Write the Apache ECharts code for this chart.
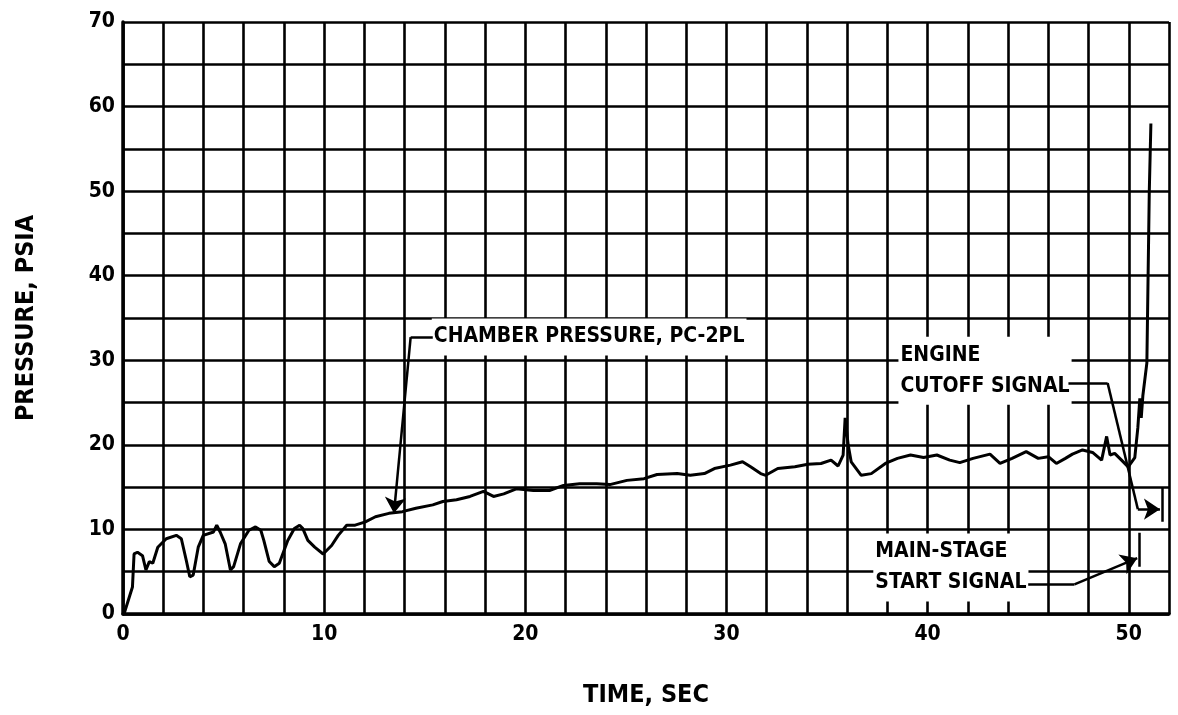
<!DOCTYPE html>
<html>
<head>
<meta charset="utf-8">
<script src="https://cdn.jsdelivr.net/npm/echarts@6/dist/echarts.min.js"></script>
<style>
  html, body { margin: 0; padding: 0; background: #fff; }
  #chart { width: 1178px; height: 715px; }
</style>
</head>
<body>
<div id="chart"></div>
<script>
// ---- data ----
const timeSec = [0.05,0.47,0.55,0.72,0.97,1.14,1.31,1.48,1.73,2.15,2.65,2.9,3.15,3.32,3.49,3.74,3.99,4.5,4.66,4.83,5.08,5.34,5.5,5.84,6.26,6.59,6.85,7.0,7.27,7.52,7.77,8.19,8.52,8.78,8.94,9.19,9.53,9.95,10.37,10.7,11.12,11.54,12.05,12.55,13.22,13.89,14.56,15.4,15.9,16.58,17.25,17.92,18.42,18.93,19.55,20.4,21.2,21.9,22.7,23.55,24.2,25.05,25.9,26.55,27.55,28.2,28.9,29.4,30.2,30.8,31.2,31.7,31.95,32.55,33.4,34.05,34.7,35.2,35.55,35.8,35.9,36.05,36.2,36.7,37.2,37.9,38.5,39.15,39.8,40.46,41.1,41.6,42.26,43.1,43.6,44.2,44.9,45.5,46.0,46.4,46.85,47.2,47.7,48.2,48.65,48.9,49.07,49.3,49.64,49.97,50.3,50.45,50.55,50.62,50.7,50.9,51.02,51.1];
const pressurePsia = [0,3.2,7.1,7.3,6.9,5.2,6.2,6.0,7.9,8.9,9.3,8.9,6.3,4.4,4.6,7.9,9.3,9.7,10.5,9.7,8.3,5.2,5.6,8.3,9.9,10.3,9.9,8.7,6.2,5.6,6.0,8.7,10.1,10.5,10.1,8.7,7.9,7.1,8.1,9.3,10.5,10.5,10.9,11.5,11.9,12.1,12.5,12.9,13.3,13.5,13.9,14.5,13.9,14.2,14.8,14.6,14.6,15.2,15.4,15.4,15.3,15.8,16.0,16.5,16.6,16.4,16.6,17.2,17.6,18.0,17.4,16.6,16.4,17.2,17.4,17.7,17.8,18.2,17.5,18.8,23.2,20.0,18.0,16.4,16.6,17.8,18.4,18.8,18.5,18.8,18.2,17.9,18.4,18.9,17.8,18.4,19.2,18.4,18.6,17.8,18.4,18.9,19.4,19.1,18.2,21.0,18.8,19.0,18.2,17.4,18.5,22.0,25.5,23.2,25.8,29.7,50.0,58.0];

const xTickLabels = [0, 10, 20, 30, 40, 50];
const yTickLabels = [0, 10, 20, 30, 40, 50, 60, 70];

// annotation texts and their anchor points (data units)
const noteTexts = ['CHAMBER PRESSURE, PC-2PL', 'ENGINE\nCUTOFF SIGNAL', 'MAIN-STAGE\nSTART SIGNAL'];
const noteX = [15.35, 38.55, 37.3];
const noteY = [32.75, 28.75, 5.5];

// leader lines (data units); the last segment of each carries an arrowhead
const chamberLeaderX = [15.4, 14.3, 13.47];
const chamberLeaderY = [32.75, 32.75, 11.9];
const cutoffLeaderX = [47.0, 48.95, 50.45, 51.55];
const cutoffLeaderY = [27.3, 27.3, 12.4, 12.4];
const mainLeaderX = [45.0, 47.3, 50.42];
const mainLeaderY = [3.5, 3.5, 6.6];
// signal marks (data units)
const cutoffMarkX = [51.65, 51.65];
const cutoffMarkY = [15.0, 10.9];
const mainMarkX = [50.5, 50.5];
const mainMarkY = [9.6, 5.6];

// ---- chart ----
const FONT = "'Liberation Sans Narrow', 'Noto Sans Condensed', 'DejaVu Sans Condensed', sans-serif";
const zip = (a, b) => a.map((v, i) => [v, b[i]]);
function segments(xs, ys) {
  const pts = zip(xs, ys), out = [];
  for (let i = 0; i < pts.length - 1; i++) out.push({ coords: [pts[i], pts[i + 1]] });
  return out;
}
const leaders = [[chamberLeaderX, chamberLeaderY], [cutoffLeaderX, cutoffLeaderY], [mainLeaderX, mainLeaderY]];
const plainSegs = [], arrowSegs = [];
leaders.forEach(([xs, ys]) => {
  const s = segments(xs, ys);
  arrowSegs.push(s.pop());
  plainSegs.push(...s);
});
plainSegs.push(...segments(cutoffMarkX, cutoffMarkY), ...segments(mainMarkX, mainMarkY));

const chart = echarts.init(document.getElementById('chart'), null, { renderer: 'canvas' });
const option = {
  backgroundColor: '#fff',
  animation: false,
  grid: { left: 123, right: 9, top: 22, bottom: 101 },
  xAxis: {
    type: 'value', min: 0, max: 52, interval: 2,
    name: 'TIME, SEC', nameLocation: 'middle', nameGap: 69,
    nameTextStyle: { fontFamily: FONT, fontWeight: 'bold', fontSize: 25, color: '#000' },
    axisLine: { show: true, onZero: false, lineStyle: { color: '#000', width: 3.5 } },
    axisTick: { show: false },
    splitLine: { show: true, showMinLine: true, showMaxLine: true, lineStyle: { color: '#000', width: 2.6 } },
    axisLabel: {
      margin: 10, fontFamily: FONT, fontWeight: 'bold', fontSize: 21, color: '#000',
      formatter: v => xTickLabels.includes(v) ? String(v) : ''
    }
  },
  yAxis: {
    type: 'value', min: 0, max: 70, interval: 5,
    name: 'PRESSURE, PSIA', nameLocation: 'middle', nameGap: 84, nameRotate: 90,
    nameTextStyle: { fontFamily: FONT, fontWeight: 'bold', fontSize: 25, color: '#000' },
    axisLine: { show: true, onZero: false, lineStyle: { color: '#000', width: 3.5 } },
    axisTick: { show: false },
    splitLine: { show: true, showMinLine: true, showMaxLine: true, lineStyle: { color: '#000', width: 2.6 } },
    axisLabel: {
      margin: 8, fontFamily: FONT, fontWeight: 'bold', fontSize: 21, color: '#000',
      formatter: v => yTickLabels.includes(v) ? String(v) : ''
    }
  },
  series: [
    {
      type: 'scatter', z: 3, symbolSize: 0, silent: true,
      itemStyle: { opacity: 1, color: '#000' },
      data: noteTexts.map((t, i) => ({ name: t, value: [noteX[i], noteY[i]] })),
      label: {
        show: true, position: 'right', distance: 0, formatter: p => p.name,
        fontFamily: FONT, fontWeight: 'bold', fontSize: 21, color: '#000', opacity: 1,
        lineHeight: 31, backgroundColor: '#fff', padding: [3, 2, 3, 2], align: 'left'
      }
    },
    {
      type: 'line', z: 5, showSymbol: false, silent: true,
      data: zip(timeSec, pressurePsia),
      lineStyle: { color: '#000', width: 3 }
    },
    {
      type: 'lines', coordinateSystem: 'cartesian2d', z: 6, silent: true,
      symbol: ['none', 'none'],
      lineStyle: { color: '#000', width: 2.5, opacity: 1 },
      data: plainSegs
    },
    {
      type: 'lines', coordinateSystem: 'cartesian2d', z: 6, silent: true,
      symbol: ['none', 'arrow'], symbolSize: [9, 16],
      lineStyle: { color: '#000', width: 2.5, opacity: 1 },
      data: arrowSegs
    }
  ]
};
chart.setOption(option);
</script>
</body>
</html>
